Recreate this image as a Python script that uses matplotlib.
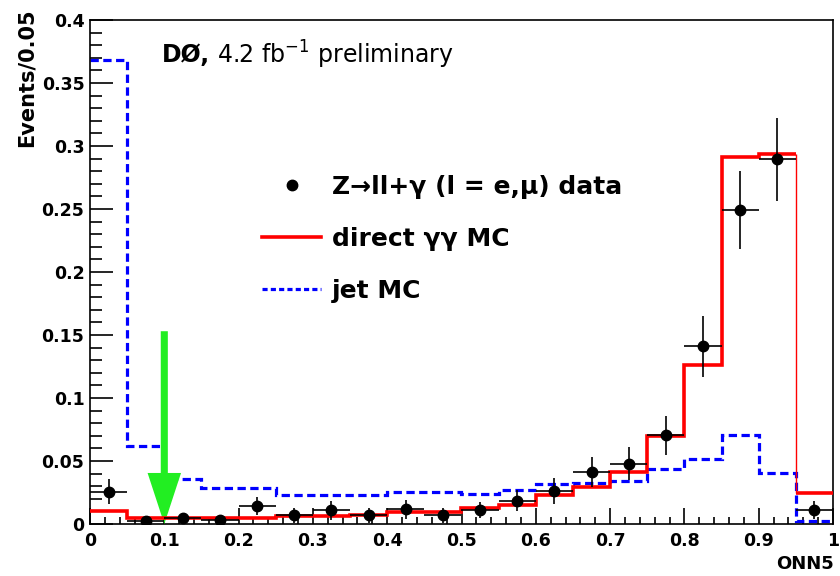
import numpy as np
import matplotlib
matplotlib.use("Agg")
import matplotlib.pyplot as plt
from matplotlib.ticker import MultipleLocator, FuncFormatter
from matplotlib.lines import Line2D

plt.rcParams['font.family'] = ['DejaVu Sans']
plt.rcParams['mathtext.fontset'] = 'dejavusans'

# ---- data (20 bins of width 0.05 on ONN5 in [0,1]) ----
bin_edges = np.linspace(0.0, 1.0, 21)
bin_centers = 0.5 * (bin_edges[:-1] + bin_edges[1:])
bin_halfwidth = 0.025

direct_gg_mc = [0.0105, 0.0048, 0.0048, 0.0048, 0.0048, 0.0063, 0.0063, 0.007,
                0.0098, 0.0098, 0.0125, 0.015, 0.023, 0.0297, 0.041, 0.070,
                0.126, 0.291, 0.2935, 0.0244]
jet_mc = [0.368, 0.062, 0.0358, 0.0284, 0.0284, 0.023, 0.023, 0.023,
          0.0252, 0.0252, 0.024, 0.027, 0.032, 0.0324, 0.0342, 0.0435,
          0.0515, 0.0708, 0.0403, 0.002]
data_vals = [0.0257, 0.002, 0.0045, 0.003, 0.0143, 0.007, 0.011, 0.007,
             0.0117, 0.007, 0.011, 0.0186, 0.0263, 0.041, 0.048, 0.0703,
             0.141, 0.249, 0.2896, 0.011]
data_errs = [0.010, 0.003, 0.003, 0.003, 0.0073, 0.006, 0.0075, 0.006,
             0.0075, 0.006, 0.0065, 0.008, 0.0106, 0.012, 0.0133, 0.0155,
             0.024, 0.031, 0.033, 0.007]

cut_value = 0.1
arrow_top = 0.153

fig = plt.figure(figsize=(8.4, 5.76), dpi=100)
ax = fig.add_axes([90/840, 1-524/576, 743/840, 504/576])

# jet MC (blue dashed)
ax.stairs(jet_mc, bin_edges, baseline=None, color='#0000ff', lw=2.3,
          linestyle=(0, (2.6, 1.4)), zorder=2)

# direct gamma-gamma MC (red)
ax.stairs(direct_gg_mc[:19], bin_edges[:20], baseline=None, color='#ff0000',
          lw=2.6, zorder=4)
ax.vlines(bin_edges[19], direct_gg_mc[19], direct_gg_mc[18], color='#ff0000',
          lw=1.0, zorder=4)
ax.hlines(direct_gg_mc[19], bin_edges[19], bin_edges[20], color='#ff0000',
          lw=2.6, zorder=4)

# green arrow for the cut
ax.arrow(cut_value, arrow_top, 0, -arrow_top, width=0.0095, head_width=0.045,
         head_length=0.0405, length_includes_head=True, color='#22ee22',
         lw=0, zorder=3)

# data
ax.errorbar(bin_centers, data_vals, yerr=data_errs, xerr=bin_halfwidth,
            fmt='o', color='black', ms=7.5, elinewidth=1.2, capsize=0, zorder=5)

ax.set_xlim(0, 1)
ax.set_ylim(0, 0.4)

fmt = FuncFormatter(lambda v, p: f"{v:g}")
ax.xaxis.set_major_locator(MultipleLocator(0.1))
ax.xaxis.set_minor_locator(MultipleLocator(0.02))
ax.yaxis.set_major_locator(MultipleLocator(0.05))
ax.yaxis.set_minor_locator(MultipleLocator(0.01))
ax.xaxis.set_major_formatter(fmt)
ax.yaxis.set_major_formatter(fmt)
ax.tick_params(axis='both', which='both', direction='in', width=1.2,
               labelsize=12.5, top=False, right=False)
ax.tick_params(axis='x', which='major', length=11.5, pad=6)
ax.tick_params(axis='x', which='minor', length=5)
ax.tick_params(axis='y', which='major', length=16.5, pad=4)
ax.tick_params(axis='y', which='minor', length=8.5)
for lab in ax.get_xticklabels() + ax.get_yticklabels():
    lab.set_fontweight('bold')
for s in ax.spines.values():
    s.set_linewidth(1.2)

fig.text(27/840, 1-8/576, 'Events/0.05', rotation=90, ha='center', va='top',
         fontsize=15, fontweight='bold')
fig.text(834/840, 1-564/576, 'ONN5', ha='right', va='center',
         fontsize=13, fontweight='bold')

t1 = ax.text(0.0965, 0.93, 'DØ,', transform=ax.transAxes, fontsize=17,
             fontweight='bold', va='center', ha='left')
fig.canvas.draw()
ax.annotate(' 4.2 fb$^{-1}$ preliminary', xy=(1, 0.5), xycoords=t1,
            fontsize=17, va='center', ha='left')

handles = [
    Line2D([], [], marker='o', color='black', ls='none', ms=7.5),
    Line2D([], [], color='#ff0000', lw=2.6),
    Line2D([], [], color='#0000ff', lw=2.3, linestyle=(0, (1.6, 1.0))),
]
labels = ['Z→ll+γ (l = e,μ) data', 'direct γγ MC', 'jet MC']
leg = ax.legend(handles, labels, loc='upper left',
                bbox_to_anchor=(262/840, 1-175/576),
                bbox_transform=fig.transFigure, frameon=False,
                prop={'size': 18, 'weight': 'bold'}, handlelength=2.36,
                handletextpad=0.44, labelspacing=1.12, borderpad=0,
                borderaxespad=0)

fig.savefig('out.png', dpi=100)
